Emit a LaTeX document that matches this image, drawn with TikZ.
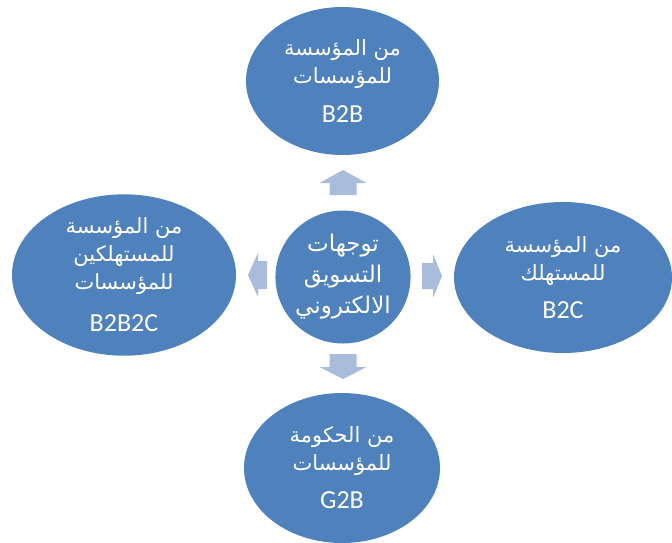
\documentclass[tikz,border=0pt]{standalone}
\usepackage{fontspec}
\setmainfont{Carlito}
\newfontfamily\arabicfont[Script=Arabic]{DejaVu Sans}
\TeXXeTstate=1
\usetikzlibrary{shapes.geometric}
\definecolor{ovalblue}{RGB}{79,129,189}
\definecolor{arrowblue}{RGB}{170,188,220}
\newcommand{\ar}[1]{{\arabicfont\beginR #1\endR}}
\begin{document}
\begin{tikzpicture}[x=1pt,y=-1pt,
  oval/.style={ellipse, fill=ovalblue, draw=none, inner sep=0pt, text=white, align=center, font=\fontsize{21}{28}\selectfont},
  latin/.style={},
  arr/.style={fill=arrowblue, draw=none}]
\useasboundingbox (0,0) rectangle (672,542);
\node[oval, minimum width=134pt, minimum height=133pt, font=\fontsize{23}{31}\selectfont] (c) at (343,277) {\ar{توجهات}\\ \ar{التسويق}\\ \ar{الالكتروني}};
\node[oval, minimum width=193pt, minimum height=148pt] (t) at (342.5,81) {\ar{من المؤسسة}\\ \ar{للمؤسسات}\\[11pt] {\fontsize{26}{30}\selectfont B2B}};
\node[oval, minimum width=224pt, minimum height=150pt] (l) at (124,275) {\ar{من المؤسسة}\\ \ar{للمستهلكين}\\ \ar{للمؤسسات}\\[14pt] {\fontsize{26}{30}\selectfont B2B2C}};
\node[oval, minimum width=218pt, minimum height=151pt] (r) at (563,277.5) {\ar{من المؤسسة}\\ \ar{للمستهلك}\\[10pt] {\fontsize{26}{30}\selectfont B2C}};
\node[oval, minimum width=196pt, minimum height=150pt] (b) at (342,468) {\ar{من الحكومة}\\ \ar{للمؤسسات}\\[10pt] {\fontsize{26}{30}\selectfont G2B}};
% arrows
\coordinate (ut) at (343,170);
\coordinate (dt) at (343,379);
\coordinate (lt) at (248,275);
\coordinate (rt) at (442,276);
\fill[arr] (ut) -- ++(23.5,13) -- ++(-10,0) -- ++(0,12) -- ++(-27,0) -- ++(0,-12) -- ++(-10,0) -- cycle;
\fill[arr] (dt) -- ++(23.5,-12) -- ++(-10,0) -- ++(0,-13) -- ++(-27,0) -- ++(0,13) -- ++(-10,0) -- cycle;
\fill[arr] (lt) -- ++(10,-22) -- ++(0,8) -- ++(9,0) -- ++(0,28) -- ++(-9,0) -- ++(0,8) -- cycle;
\fill[arr] (rt) -- ++(-9,-22) -- ++(0,9) -- ++(-11,0) -- ++(0,26) -- ++(11,0) -- ++(0,9) -- cycle;
\end{tikzpicture}
\end{document}
